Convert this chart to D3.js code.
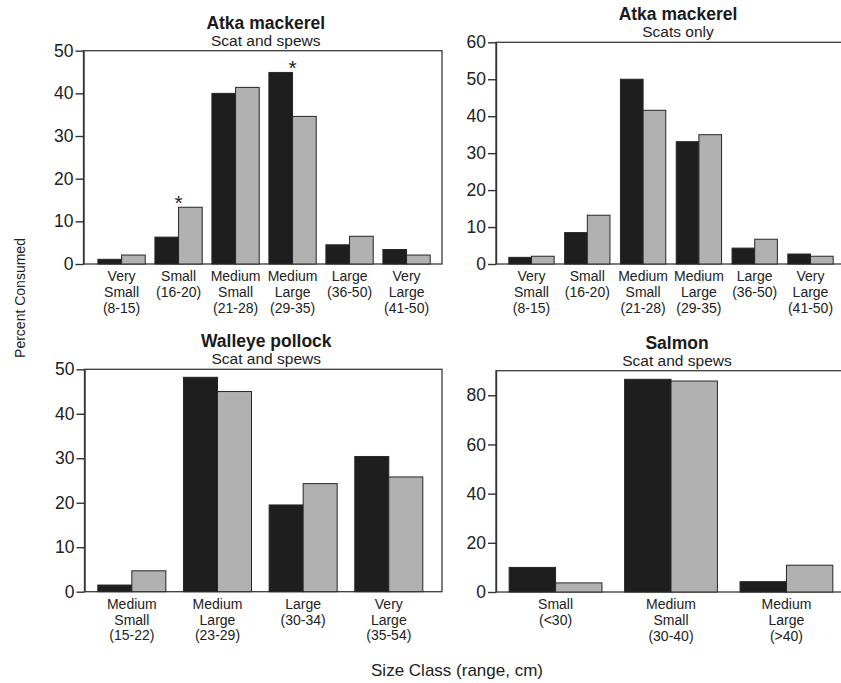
<!DOCTYPE html>
<html>
<head>
<meta charset="utf-8">
<style>
  body {margin: 0; background: #fff; font-family: "Liberation Sans", Arial, sans-serif;}
  .tick line, .domain {stroke: #333; stroke-width: 1.4px;}
</style>
<script src="https://d3js.org/d3.v7.min.js"></script>
</head>
<body>
<div id="chart"></div>
<script>

// size classes (label lines) for each species
const atkaClasses = [["Very", "Small", "(8-15)"], ["Small", "(16-20)"], ["Medium", "Small", "(21-28)"],
                     ["Medium", "Large", "(29-35)"], ["Large", "(36-50)"], ["Very", "Large", "(41-50)"]]
const pollockClasses = [["Medium", "Small", "(15-22)"], ["Medium", "Large", "(23-29)"],
                        ["Large", "(30-34)"], ["Very", "Large", "(35-54)"]]
const salmonClasses = [["Small", "(<30)"], ["Medium", "Small", "(30-40)"], ["Medium", "Large", "(>40)"]]

// percent consumed, black bars / grey bars
const atkaSpewsBlack = [1.1, 6.3, 40.0, 44.9, 4.5, 3.4]
const atkaSpewsGrey  = [2.1, 13.3, 41.4, 34.6, 6.5, 2.1]
const atkaScatsBlack = [1.8, 8.5, 50.0, 33.1, 4.3, 2.7]
const atkaScatsGrey  = [2.1, 13.2, 41.6, 35.0, 6.7, 2.1]
const pollockBlack = [1.5, 48.2, 19.5, 30.4]
const pollockGrey  = [4.7, 45.0, 24.3, 25.8]
const salmonBlack = [10.0, 86.5, 4.2]
const salmonGrey  = [3.7, 85.8, 10.9]

// classes marked with an asterisk
const atkaSpewsStars = [1, 3]

const ticks50 = [0, 10, 20, 30, 40, 50]
const ticks60 = [0, 10, 20, 30, 40, 50, 60]
const ticks80 = [0, 20, 40, 60, 80]

const width = 841, height = 683

const svg = d3.select('#chart').append('svg')
  .attr('width', width)
  .attr('height', height)

const panels = [
  {title: 'Atka mackerel', sub: 'Scat and spews', classes: atkaClasses, black: atkaSpewsBlack, grey: atkaSpewsGrey,
   stars: atkaSpewsStars, yMax: 50, ticks: ticks50, left: 83.5, right: 442, top: 50.7, bottom: 264,
   padIn: 0.17, padOut: 0.23, align: 0.55, titleDx: 3},
  {title: 'Atka mackerel', sub: 'Scats only', classes: atkaClasses, black: atkaScatsBlack, grey: atkaScatsGrey,
   stars: [], yMax: 60, ticks: ticks60, left: 496, right: 846, top: 42.3, bottom: 264,
   padIn: 0.188, padOut: 0.23, align: 0.5, titleDx: 7},
  {title: 'Walleye pollock', sub: 'Scat and spews', classes: pollockClasses, black: pollockBlack, grey: pollockGrey,
   stars: [], yMax: 50, ticks: ticks50, left: 84.5, right: 442, top: 369.3, bottom: 591.7,
   padIn: 0.206, padOut: 0.19, align: 0.41, titleDx: 3},
  {title: 'Salmon', sub: 'Scat and spews', classes: salmonClasses, black: salmonBlack, grey: salmonGrey,
   stars: [], yMax: 90, ticks: ticks80, left: 496, right: 846, top: 370.7, bottom: 592,
   padIn: 0.196, padOut: 0.114, align: 0.5, titleDx: 6}
]

function drawPanel(p) {
  const x = d3.scaleBand()
    .domain(d3.range(p.classes.length))
    .range([p.left, p.right])
    .paddingInner(p.padIn)
    .paddingOuter(p.padOut)
    .align(p.align)
  const xs = d3.scaleBand().domain([0, 1]).range([0, x.bandwidth()])
  const y = d3.scaleLinear().domain([0, p.yMax]).range([p.bottom, p.top])

  const g = svg.append('g')

  // frame round the plot
  g.append('rect')
    .attr('x', p.left)
    .attr('y', y(p.yMax))
    .attr('width', p.right - p.left)
    .attr('height', y(0) - y(p.yMax))
    .attr('fill', 'none')
    .attr('stroke', '#3a3a3a')
    .attr('stroke-width', 1.3)

  const rows = p.classes.map((c, i) => [p.black[i], p.grey[i]])

  g.selectAll('g.grp')
    .data(rows)
    .join('g')
      .attr('class', 'grp')
      .attr('transform', (d, i) => 'translate(' + x(i) + ',0)')
    .selectAll('rect')
    .data(d => d)
    .join('rect')
      .attr('x', (d, j) => xs(j))
      .attr('y', d => y(d))
      .attr('width', xs.bandwidth())
      .attr('height', d => y(0) - y(d))
      .attr('fill', (d, j) => j ? '#b1b1b1' : '#1e1e1e')
      .attr('stroke', '#262626')
      .attr('stroke-width', 1)

  // asterisks
  g.selectAll('text.star')
    .data(p.stars)
    .join('text')
      .attr('class', 'star')
      .attr('x', i => x(i) + x.bandwidth() / 2)
      .attr('y', i => y(Math.max(p.black[i], p.grey[i])) + 3)
      .attr('text-anchor', 'middle')
      .style('font-size', '21px')
      .style('fill', '#222')
      .text('*')

  const ax = g.append('g')
    .attr('transform', 'translate(' + p.left + ',0)')
    .call(d3.axisLeft(y).tickValues(p.ticks).tickSize(8).tickSizeOuter(0).tickPadding(2))
  ax.selectAll('text')
    .style('font-size', '17.5px')
    .style('font-family', '"Liberation Sans", Arial, sans-serif')
    .style('fill', '#222')

  // category labels
  const lab = g.selectAll('text.cat')
    .data(p.classes)
    .join('text')
      .attr('class', 'cat')
      .attr('text-anchor', 'middle')
      .style('font-size', '14px')
      .style('fill', '#222')

  lab.selectAll('tspan')
    .data((d, i) => d.map(t => ({t: t, i: i})))
    .join('tspan')
      .attr('x', d => x(d.i) + x.bandwidth() / 2)
      .attr('y', (d, k) => p.bottom + 17 + k * 15.8)
      .text(d => d.t)

  const cx = (p.left + p.right) / 2 + p.titleDx
  g.append('text')
    .attr('x', cx)
    .attr('y', y(p.yMax) - 22)
    .attr('text-anchor', 'middle')
    .style('font-size', '17.5px')
    .style('font-weight', 'bold')
    .style('fill', '#1a1a1a')
    .text(p.title)

  g.append('text')
    .attr('x', cx)
    .attr('y', y(p.yMax) - 5)
    .attr('text-anchor', 'middle')
    .style('font-size', '15.5px')
    .style('fill', '#222')
    .text(p.sub)
}

panels.forEach(drawPanel)

svg.append('text')
  .attr('transform', 'translate(25,298) rotate(-90)')
  .attr('text-anchor', 'middle')
  .style('font-size', '14px')
  .style('fill', '#222')
  .text('Percent Consumed')

svg.append('text')
  .attr('x', 457)
  .attr('y', 676)
  .attr('text-anchor', 'middle')
  .style('font-size', '17px')
  .style('fill', '#222')
  .text('Size Class (range, cm)')

</script>
</body>
</html>
